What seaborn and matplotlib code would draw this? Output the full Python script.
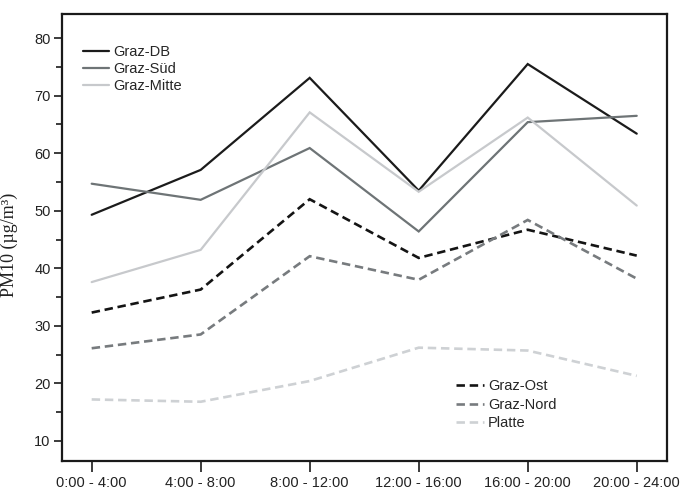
import matplotlib
matplotlib.use("Agg")
import matplotlib.pyplot as plt
import seaborn as sns
import pandas as pd

# Time windows along the x axis
periods = ["0:00 - 4:00", "4:00 - 8:00", "8:00 - 12:00",
           "12:00 - 16:00", "16:00 - 20:00", "20:00 - 24:00"]

# Mean PM10 concentration per station (µg/m³)
graz_db = [49.3, 57.1, 73.1, 53.5, 75.5, 63.4]
graz_sued = [54.7, 51.9, 60.9, 46.4, 65.4, 66.5]
graz_mitte = [37.6, 43.2, 67.1, 53.3, 66.2, 50.9]
graz_ost = [32.3, 36.3, 52.0, 41.8, 46.7, 42.2]
graz_nord = [26.1, 28.5, 42.1, 38.0, 48.4, 38.2]
platte = [17.2, 16.8, 20.4, 26.2, 25.7, 21.3]

stations = ["Graz-DB", "Graz-Süd", "Graz-Mitte", "Graz-Ost", "Graz-Nord", "Platte"]
series = [graz_db, graz_sued, graz_mitte, graz_ost, graz_nord, platte]

rows = []
for name, vals in zip(stations, series):
    for i, v in enumerate(vals):
        rows.append({"pos": i, "station": name, "pm10": v})
df = pd.DataFrame(rows)

palette = {
    "Graz-DB": "#1b1b1b",
    "Graz-Süd": "#6e7476",
    "Graz-Mitte": "#c7c9cc",
    "Graz-Ost": "#141414",
    "Graz-Nord": "#777b7e",
    "Platte": "#ced1d4",
}
dashes = {
    "Graz-DB": "",
    "Graz-Süd": "",
    "Graz-Mitte": "",
    "Graz-Ost": (3.2, 1.8),
    "Graz-Nord": (3.2, 1.8),
    "Platte": (3.2, 1.8),
}

sns.set_style("ticks")
plt.rcParams["font.family"] = ["Liberation Sans", "DejaVu Sans"]

fig = plt.figure(figsize=(6.8, 4.9), dpi=100)
ax = fig.add_axes([61.7 / 680, 1 - 461 / 490, 605 / 680, 447 / 490])

sns.lineplot(data=df, x="pos", y="pm10", hue="station", style="station",
             hue_order=stations, style_order=stations,
             palette=palette, dashes=dashes, linewidth=1.9,
             legend=False, ax=ax)
for idx, ln in enumerate(ax.lines):
    ln.set_label(stations[idx])
    if dashes[stations[idx]] == "":
        ln.set_linewidth(1.6)
    ln.set_solid_joinstyle("miter")
    ln.set_dash_joinstyle("miter")

ax.set_xlim(-0.275, 5.275)
ax.set_ylim(6.5, 84.2)
ax.set_xticks(range(len(periods)))
ax.set_xticklabels(periods, fontsize=10.5)
ax.set_yticks([10, 20, 30, 40, 50, 60, 70, 80])
ax.set_yticks([15, 25, 35, 45, 55, 65, 75], minor=True)
ax.tick_params(axis="y", which="major", length=6, width=1.2, labelsize=10.5,
               direction="out", colors="#1a1a1a", pad=2)
ax.tick_params(axis="y", which="minor", length=4, width=1.2, direction="out",
               colors="#1a1a1a")
ax.tick_params(axis="x", which="major", length=8, width=1.2, direction="out",
               colors="#1a1a1a", pad=3)
for lab in ax.get_xticklabels() + ax.get_yticklabels():
    lab.set_color("#222222")

for sp in ax.spines.values():
    sp.set_visible(True)
    sp.set_linewidth(1.6)
    sp.set_color("#1a1a1a")

ax.set_xlabel("")
ax.set_ylabel("PM10 (µg/m³)", family=["Liberation Serif", "DejaVu Serif"],
              fontsize=13, color="#222222")
ax.yaxis.set_label_coords(18 / 680, 0.5, transform=fig.transFigure)

handles = ax.lines
leg1 = ax.legend(handles[:3], stations[:3], loc="upper left",
                 bbox_to_anchor=(83 / 680, 1 - 45 / 490),
                 bbox_transform=fig.transFigure, frameon=False,
                 fontsize=10.5, handlelength=1.8, handletextpad=0.3,
                 labelspacing=0.2, borderpad=0, borderaxespad=0)
ax.add_artist(leg1)
ax.legend(handles[3:], stations[3:], loc="upper left",
          bbox_to_anchor=(456 / 680, 1 - 379 / 490),
          bbox_transform=fig.transFigure, frameon=False,
          fontsize=10.5, handlelength=1.9, handletextpad=0.3,
          labelspacing=0.32, borderpad=0, borderaxespad=0)

fig.savefig("out.png", dpi=100)
